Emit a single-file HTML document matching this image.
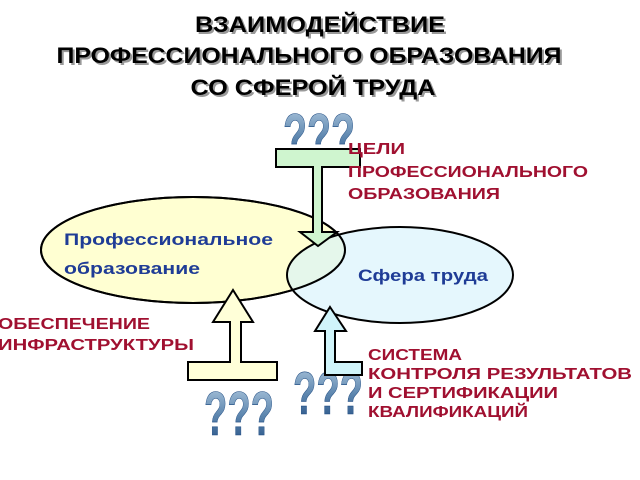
<!DOCTYPE html>
<html><head><meta charset="utf-8"><style>
html,body{margin:0;padding:0;background:#fff;width:640px;height:480px;overflow:hidden}
</style></head><body>
<svg width="640" height="480" viewBox="0 0 640 480" xmlns="http://www.w3.org/2000/svg" font-family="Liberation Sans, sans-serif">
<defs>
<linearGradient id="q" x1="0" y1="0" x2="0" y2="1">
<stop offset="0" stop-color="#b5cde2"/><stop offset="0.5" stop-color="#5f88b0"/><stop offset="1" stop-color="#1e4a80"/>
</linearGradient>
</defs>
<g font-weight="bold" font-size="22" text-anchor="middle" fill="#000">
<text x="322" y="34" fill="#999" textLength="250" lengthAdjust="spacingAndGlyphs">ВЗАИМОДЕЙСТВИЕ</text>
<text x="320" y="32" textLength="250" lengthAdjust="spacingAndGlyphs">ВЗАИМОДЕЙСТВИЕ</text>
<text x="311" y="65" fill="#999" textLength="505" lengthAdjust="spacingAndGlyphs">ПРОФЕССИОНАЛЬНОГО ОБРАЗОВАНИЯ</text>
<text x="309" y="63" textLength="505" lengthAdjust="spacingAndGlyphs">ПРОФЕССИОНАЛЬНОГО ОБРАЗОВАНИЯ</text>
<text x="315" y="97" fill="#999" textLength="245" lengthAdjust="spacingAndGlyphs">СО СФЕРОЙ ТРУДА</text>
<text x="313" y="95" textLength="245" lengthAdjust="spacingAndGlyphs">СО СФЕРОЙ ТРУДА</text>
</g>
<ellipse cx="193" cy="250" rx="152" ry="53" fill="#ffffd2" stroke="#000" stroke-width="2"/>
<ellipse cx="400" cy="275" rx="113" ry="48" fill="#d4f2fb" fill-opacity="0.6" stroke="#000" stroke-width="2"/>
<ellipse cx="193" cy="250" rx="152" ry="53" fill="none" stroke="#000" stroke-width="2"/>
<text x="64" y="245" font-size="17" font-weight="bold" fill="#1f3c96" textLength="209" lengthAdjust="spacingAndGlyphs">Профессиональное</text>
<text x="64" y="274" font-size="17" font-weight="bold" fill="#1f3c96" textLength="136" lengthAdjust="spacingAndGlyphs">образование</text>
<text x="358" y="281" font-size="17" font-weight="bold" fill="#1f3c96" textLength="130" lengthAdjust="spacingAndGlyphs">Сфера труда</text>
<g font-weight="bold" fill="url(#q)" stroke="#1e4a80" stroke-width="0.6">
<text x="283" y="157" font-size="62" textLength="72" lengthAdjust="spacingAndGlyphs">???</text>
<text x="204" y="435" font-size="62" textLength="70" lengthAdjust="spacingAndGlyphs">???</text>
<text x="293" y="414" font-size="60" textLength="70" lengthAdjust="spacingAndGlyphs">???</text>
</g>
<path d="M276,149 H360 V167 H322 V232 H337 L318,246 L300,232 H313 V167 H276 Z" fill="#cff5cf" stroke="#000" stroke-width="2"/>
<path d="M233,290 L253,322 H241 V362 H277 V380 H188 V362 H230 V322 H213 Z" fill="#ffffd8" stroke="#000" stroke-width="2"/>
<path d="M330,307 L346,331 H335 V362 H362 V375 H325 V331 H315 Z" fill="#d0f4fa" stroke="#000" stroke-width="2"/>
<g font-size="16" font-weight="bold" fill="#a01030">
<text x="348" y="154" textLength="57" lengthAdjust="spacingAndGlyphs">ЦЕЛИ</text>
<text x="348" y="177" textLength="240" lengthAdjust="spacingAndGlyphs">ПРОФЕССИОНАЛЬНОГО</text>
<text x="348" y="199" textLength="152" lengthAdjust="spacingAndGlyphs">ОБРАЗОВАНИЯ</text>
<text x="-2" y="329" textLength="152" lengthAdjust="spacingAndGlyphs">ОБЕСПЕЧЕНИЕ</text>
<text x="-2" y="350" textLength="196" lengthAdjust="spacingAndGlyphs">ИНФРАСТРУКТУРЫ</text>
<text x="368" y="360" textLength="94" lengthAdjust="spacingAndGlyphs">СИСТЕМА</text>
<text x="368" y="379" textLength="264" lengthAdjust="spacingAndGlyphs">КОНТРОЛЯ РЕЗУЛЬТАТОВ</text>
<text x="368" y="398" textLength="190" lengthAdjust="spacingAndGlyphs">И СЕРТИФИКАЦИИ</text>
<text x="368" y="417" textLength="160" lengthAdjust="spacingAndGlyphs">КВАЛИФИКАЦИЙ</text>
</g>
</svg>
</body></html>
